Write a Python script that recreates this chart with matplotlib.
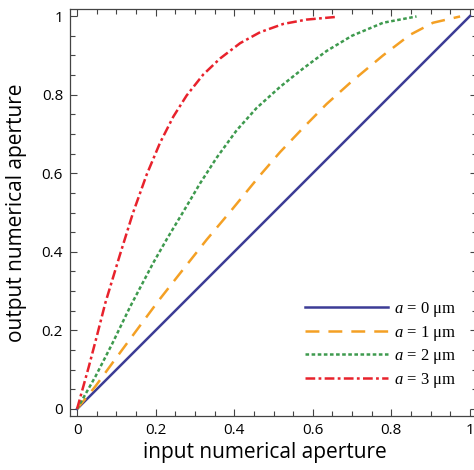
import numpy as np
from matplotlib import pyplot as plt
from matplotlib.ticker import MultipleLocator

# values
blue_x = [0.0, 1.0]
blue_y = [0.0, 1.0]

orange_x = [0, 0.047, 0.093, 0.144, 0.207, 0.262, 0.33, 0.389, 0.466, 0.517,
            0.576, 0.635, 0.695, 0.779, 0.847, 0.906, 0.975]
orange_y = [0, 0.058, 0.121, 0.19, 0.275, 0.345, 0.431, 0.501, 0.595, 0.654,
            0.716, 0.776, 0.83, 0.9, 0.952, 0.983, 0.999]

green_x = [0, 0.047, 0.089, 0.135, 0.194, 0.230, 0.271, 0.313, 0.355, 0.406,
           0.457, 0.517, 0.576, 0.635, 0.70, 0.779, 0.864]
green_y = [0, 0.083, 0.165, 0.26, 0.372, 0.435, 0.503, 0.574, 0.639, 0.709,
           0.766, 0.820, 0.867, 0.911, 0.950, 0.983, 0.999]

red_x = [0, 0.030, 0.051, 0.072, 0.109, 0.142, 0.177, 0.211, 0.245, 0.279,
         0.321, 0.364, 0.415, 0.466, 0.525, 0.584, 0.661]
red_y = [0, 0.108, 0.188, 0.27, 0.392, 0.498, 0.596, 0.677, 0.744, 0.798,
         0.851, 0.892, 0.931, 0.959, 0.980, 0.991, 0.998]

labels = [r"$a$ = 0 μm", r"$a$ = 1 μm", r"$a$ = 2 μm", r"$a$ = 3 μm"]

plt.rcParams['font.family'] = ['Open Sans', 'DejaVu Sans']
plt.rcParams['mathtext.fontset'] = 'custom'
plt.rcParams['mathtext.it'] = 'Liberation Serif:italic'
plt.rcParams['mathtext.rm'] = 'Liberation Serif'
plt.rcParams['lines.scale_dashes'] = False

fig = plt.figure(figsize=(4.74, 4.70), dpi=100)
ax = fig.add_axes([70/474, 54/470, 407/474, 407/470])

ax.plot(blue_x, blue_y, color='#3c3c96', lw=1.8, label=labels[0])
ax.plot(orange_x, orange_y, color='#f4a024', lw=1.8, dashes=(10, 6.5),
        label=labels[1])
ax.plot(green_x, green_y, color='#3e9a4e', lw=1.8, dashes=(2.6, 1.8),
        label=labels[2])
ax.plot(red_x, red_y, color='#e8222c', lw=1.8, dashes=(7, 2.4, 2, 2.4),
        label=labels[3])

ax.set_xlim(-0.018, 1.018)
ax.set_ylim(-0.018, 1.018)
ax.xaxis.set_major_locator(MultipleLocator(0.2))
ax.yaxis.set_major_locator(MultipleLocator(0.2))
ax.xaxis.set_minor_locator(MultipleLocator(0.05))
ax.yaxis.set_minor_locator(MultipleLocator(0.05))
ax.xaxis.set_major_formatter(plt.FuncFormatter(lambda v, p: f"{v:g}"))
ax.yaxis.set_major_formatter(plt.FuncFormatter(lambda v, p: f"{v:g}"))
ax.tick_params(which='both', direction='in', top=True, right=True,
               color='#444444', labelsize=11, pad=5)
ax.tick_params(which='major', length=5, width=0.8)
ax.tick_params(which='minor', length=3.5, width=0.8)
for s in ax.spines.values():
    s.set_color('#444444')
    s.set_linewidth(0.9)

ax.set_xlabel("input numerical aperture", fontsize=15)
ax.set_ylabel("output numerical aperture", fontsize=15)
ax.xaxis.set_label_coords(0.479, -0.063)
ax.yaxis.set_label_coords(-0.106, 0.5)

leg = ax.legend(loc='upper left', bbox_to_anchor=(0.577, 0.285), frameon=False,
                prop={'family': 'Liberation Serif', 'size': 12},
                handlelength=5.0, handletextpad=0.35, labelspacing=0.27,
                borderpad=0, borderaxespad=0)

fig.savefig("out.png", dpi=100)
